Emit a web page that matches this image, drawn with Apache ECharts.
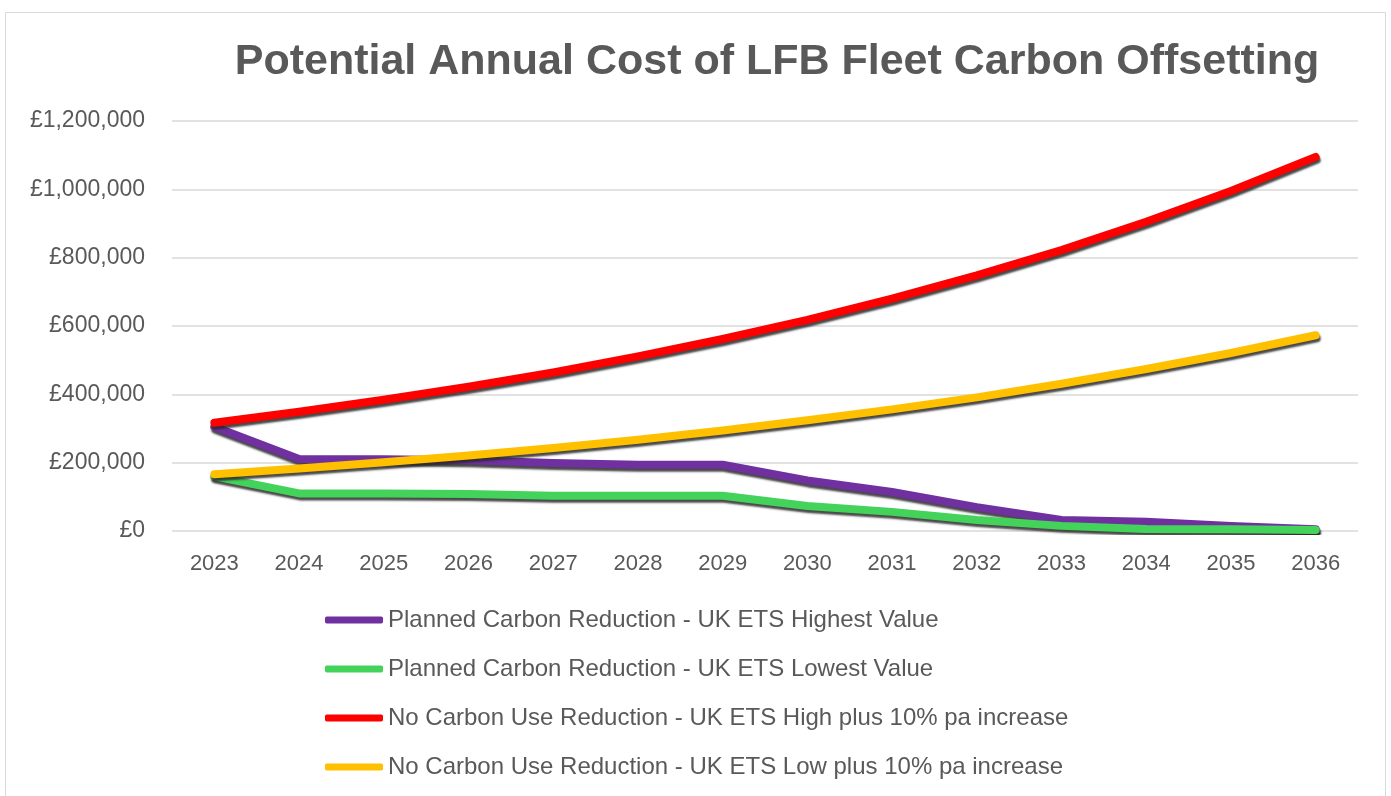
<!DOCTYPE html>
<html>
<head>
<meta charset="utf-8">
<title>Potential Annual Cost of LFB Fleet Carbon Offsetting</title>
<script src="https://cdn.jsdelivr.net/npm/echarts@6/dist/echarts.min.js"></script>
<style>
  html, body { margin: 0; padding: 0; background: #fff; }
  #chart { width: 1391px; height: 796px; }
</style>
</head>
<body>
<div id="chart"></div>
<script>
// years on the x axis
const years = ["2023", "2024", "2025", "2026", "2027", "2028", "2029", "2030", "2031", "2032", "2033", "2034", "2035", "2036"];

// series values (£)
const plannedHigh = [305000, 211000, 210000, 207000, 199000, 194000, 194000, 148000, 114000, 70000, 32000, 27000, 15000, 5000];
const plannedLow = [160000, 110000, 110000, 108000, 103000, 103000, 103000, 73000, 56000, 32000, 15000, 6000, 5000, 3000];
const noReductionHigh = [317000, 349000, 384000, 422000, 464000, 511000, 562000, 618000, 680000, 748000, 822000, 905000, 995000, 1095000];
const noReductionLow = [166000, 183000, 201000, 221000, 243000, 267000, 294000, 324000, 356000, 391000, 431000, 474000, 521000, 573000];

const seriesNames = [
  "Planned Carbon Reduction - UK ETS Highest Value",
  "Planned Carbon Reduction - UK ETS Lowest Value",
  "No Carbon Use Reduction - UK ETS High plus 10% pa increase",
  "No Carbon Use Reduction - UK ETS Low plus 10% pa increase",
];
const seriesColors = ["#7030a0", "#44d35a", "#ff0000", "#ffc000"];
const seriesData = [plannedHigh, plannedLow, noReductionHigh, noReductionLow];

const textColor = "#595959";
const font = "'Liberation Sans', Arial, sans-serif";

const chart = echarts.init(document.getElementById("chart"));

const fmt = (v) => "£" + v.toLocaleString("en-GB");

const option = {
  animation: false,
  textStyle: { fontFamily: font },
  graphic: [
    {
      type: "rect",
      shape: { x: 5.5, y: 12.5, width: 1380, height: 800 },
      style: { fill: "none", stroke: "#d9d9d9", lineWidth: 1 },
      silent: true,
    },
  ],
  title: {
    text: "Potential Annual Cost of LFB Fleet Carbon Offsetting",
    left: 772,
    textAlign: "center",
    top: 36,
    textStyle: {
      color: textColor,
      fontSize: 43,
      fontWeight: "bold",
      fontFamily: font,
    },
  },
  grid: {
    left: 172,
    right: 33,
    top: 121,
    bottom: 265,
    containLabel: false,
  },
  xAxis: {
    type: "category",
    data: years,
    boundaryGap: true,
    axisLine: { show: false },
    axisTick: { show: false },
    axisLabel: {
      color: textColor,
      fontSize: 22,
      margin: 22,
    },
    splitLine: { show: false },
  },
  yAxis: {
    type: "value",
    min: 0,
    max: 1200000,
    interval: 200000,
    axisLine: { show: false },
    axisTick: { show: false },
    axisLabel: {
      color: textColor,
      fontSize: 23,
      margin: 27,
      formatter: fmt,
    },
    splitLine: { lineStyle: { color: "#d9d9d9", width: 1.5 } },
  },
  legend: {
    orient: "vertical",
    left: 325,
    top: 608,
    padding: 0,
    itemWidth: 58,
    itemHeight: 7,
    itemGap: 25,
    icon: "roundRect",
    textStyle: { color: textColor, fontSize: 24 },
    data: seriesNames,
  },
  series: seriesNames.map((name, i) => ({
    name,
    type: "line",
    data: seriesData[i],
    symbol: "none",
    color: seriesColors[i],
    lineStyle: {
      width: 8,
      color: seriesColors[i],
      cap: "round",
      join: "round",
      shadowColor: "rgba(40,40,40,0.85)",
      shadowBlur: 2,
      shadowOffsetX: 1,
      shadowOffsetY: 3,
    },
  })),
};

chart.setOption(option);
</script>
</body>
</html>
